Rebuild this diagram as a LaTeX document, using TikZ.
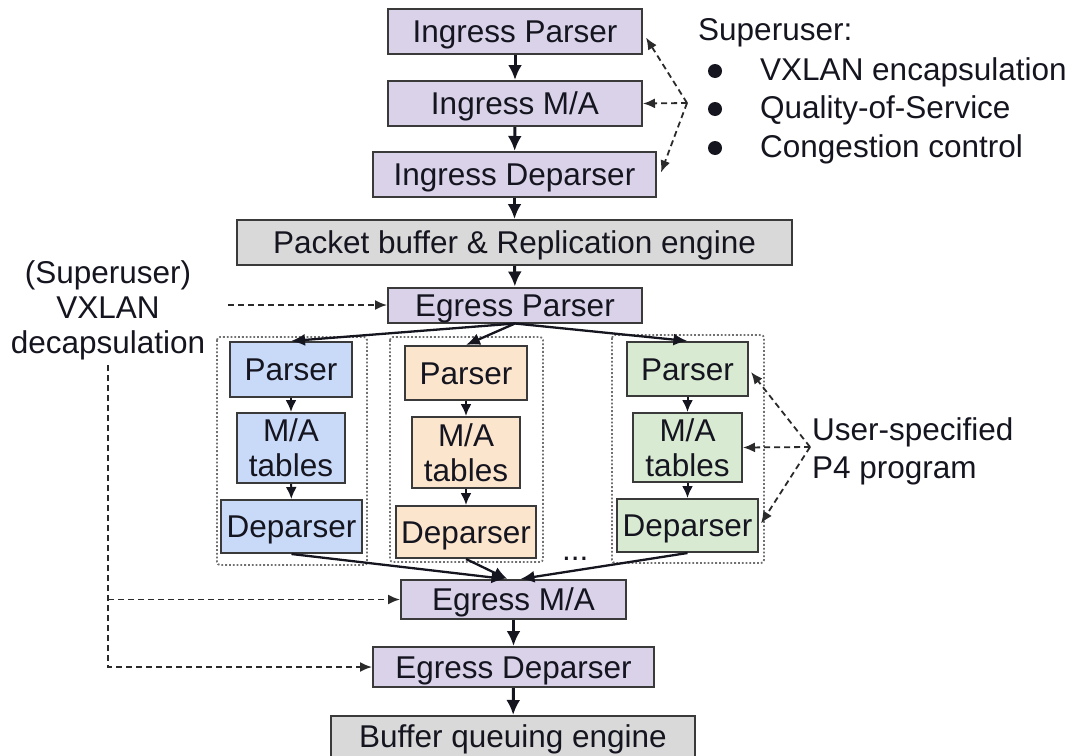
\documentclass[tikz,border=0pt]{standalone}
\usepackage{fontspec}
\setmainfont{Liberation Sans}
\usetikzlibrary{arrows.meta,calc}

\definecolor{ink}{HTML}{151520}
\definecolor{boxline}{HTML}{3A3A3A}
\definecolor{lav}{HTML}{D9D2E9}
\definecolor{grayfill}{HTML}{D9D9D9}
\definecolor{bluefill}{HTML}{C9DAF8}
\definecolor{orangefill}{HTML}{FCE5CD}
\definecolor{greenfill}{HTML}{D9EAD3}
\definecolor{hintcol}{HTML}{2A2A2A}
\definecolor{groupcol}{HTML}{707070}

\begin{document}
\begin{tikzpicture}[x=1pt,y=-1pt,
  font=\fontsize{31.5}{35}\selectfont,
  box/.style={draw=boxline, line width=2pt, inner sep=0pt, text=ink, align=center},
  onebox/.style={box, text height=22.6pt, text depth=0pt},
  purplebox/.style={onebox, fill=lav},
  graybox/.style={onebox, fill=grayfill},
  bluef/.style={fill=bluefill},
  orangef/.style={fill=orangefill},
  greenf/.style={fill=greenfill},
  flow/.style={draw=ink, line width=3pt, -{Latex[length=15pt,width=14pt]}},
  subflow/.style={draw=ink, line width=2pt, -{Latex[length=12pt,width=11pt]}},
  fan/.style={draw=ink, line width=2.3pt, -{Latex[length=14pt,width=12pt]}},
  hintline/.style={draw=hintcol, line width=1.8pt, dash pattern=on 6pt off 4pt},
  hint/.style={hintline, -{Latex[length=12pt,width=10pt]}},
  group/.style={draw=groupcol, line width=1.8pt, dotted, rounded corners=3pt},
  label/.style={text=ink, inner sep=0pt}
]
\useasboundingbox (0,0) rectangle (1073,755);

% ---- ingress pipeline ----
\node[purplebox, minimum width=254, minimum height=45] (IP) at (515,31.5) {Ingress Parser};
\node[purplebox, minimum width=254, minimum height=45] (IM) at (515,103.5) {Ingress M/A};
\node[purplebox, minimum width=283, minimum height=45] (ID) at (514.5,174.5) {Ingress Deparser};
\node[graybox, minimum width=555, minimum height=45] (PB) at (514.5,242.5) {Packet buffer \& Replication engine};
\node[purplebox, minimum width=254, minimum height=35] (EP) at (515,305) {Egress Parser};

% ---- per-user egress programs ----
\draw[group] (217,337) rectangle (367,565);
\draw[group] (390,337) rectangle (543,562);
\draw[group] (612,335) rectangle (764,563);

\node[onebox, bluef, minimum width=122, minimum height=55] (BP) at (291,369.5) {Parser};
\node[box, bluef, minimum width=108, minimum height=70] (BM) at (291,448) {M/A\\tables};
\node[onebox, bluef, minimum width=141, minimum height=53] (BD) at (291.5,526.5) {Deparser};

\node[onebox, orangef, minimum width=122, minimum height=54] (OP) at (466,373) {Parser};
\node[box, orangef, minimum width=108, minimum height=71] (OM) at (466,452.5) {M/A\\tables};
\node[onebox, orangef, minimum width=140, minimum height=52] (OD) at (466,532) {Deparser};

\node[onebox, greenf, minimum width=121, minimum height=54] (GP) at (687.5,369) {Parser};
\node[box, greenf, minimum width=109, minimum height=69] (GM) at (687.5,447.5) {M/A\\tables};
\node[onebox, greenf, minimum width=141, minimum height=53] (GD) at (687.5,525.5) {Deparser};

\node[label, anchor=base west] (dots) at (562,560) {...};

% ---- egress tail ----
\node[purplebox, minimum width=225, minimum height=39] (EM) at (513.5,599.5) {Egress M/A};
\node[purplebox, minimum width=281, minimum height=40] (ED) at (513.5,667) {Egress Deparser};
\node[graybox, minimum width=364, minimum height=41] (BQ) at (513,736.5) {Buffer queuing engine};

% ---- main flow ----
\draw[flow] (IP) -- (IM);
\draw[flow] (IM) -- (ID);
\draw[flow] (ID) -- (PB);
\draw[flow] (PB) -- (EP);
\draw[flow] (EM) -- (ED);
\draw[flow] (ED) -- (BQ);

\draw[fan] (EP.south) -- (BP.north);
\draw[fan] (EP.south) -- (OP.north);
\draw[fan] (EP.south) -- (GP.north);

\draw[subflow] (BP) -- (BM);
\draw[subflow] (BM) -- (BD);
\draw[subflow] (OP) -- (OM);
\draw[subflow] (OM) -- (OD);
\draw[subflow] (GP) -- (GM);
\draw[subflow] (GM) -- (GD);

\draw[fan] (BD.south) -- ($(EM.north)+(-8,0)$);
\draw[fan] (OD.south) -- ($(EM.north)+(-6,0)$);
\draw[fan] (GD.south) -- ($(EM.north)+(7,0)$);

% ---- superuser annotations (ingress) ----
\node[label, anchor=base west] (sutitle) at (698,40) {Superuser:};
\fill[ink] (715,71) circle (7);
\fill[ink] (715,109) circle (7);
\fill[ink] (715,148) circle (7);
\node[label, anchor=base west] (su1) at (760,80) {VXLAN encapsulation};
\node[label, anchor=base west] (su2) at (760,118) {Quality-of-Service};
\node[label, anchor=base west] (su3) at (760,157) {Congestion control};

\coordinate (su) at (687,103);
\draw[hint] (su) -- ($(IP.east)+(3,6)$);
\draw[hint] (su) -- (IM.east);
\draw[hint] (su) -- ($(ID.east)+(4,-2)$);

% ---- superuser annotations (egress) ----
\node[label, align=center] (decap) at (108,310) {(Superuser)\\VXLAN\\decapsulation};
\coordinate (ep0) at (228,305);
\draw[hint] (ep0) -- (EP.west);
\coordinate (vtop) at (108,365);
\coordinate (vm) at (108,599.5);
\draw[hint] (vtop) |- (ED.west);
\draw[hint] (vm) -- (EM.west);

% ---- user program annotation ----
\node[label, anchor=base west] (usr1) at (812,440) {User-specified};
\node[label, anchor=base west] (usr2) at (812,478) {P4 program};
\coordinate (us) at (810,447);
\draw[hint] (us) -- ($(GP.east)+(2,3)$);
\draw[hint] (us) -- (GM.east);
\draw[hint] (us) -- ($(GD.east)+(2,-2)$);
\end{tikzpicture}
\end{document}
